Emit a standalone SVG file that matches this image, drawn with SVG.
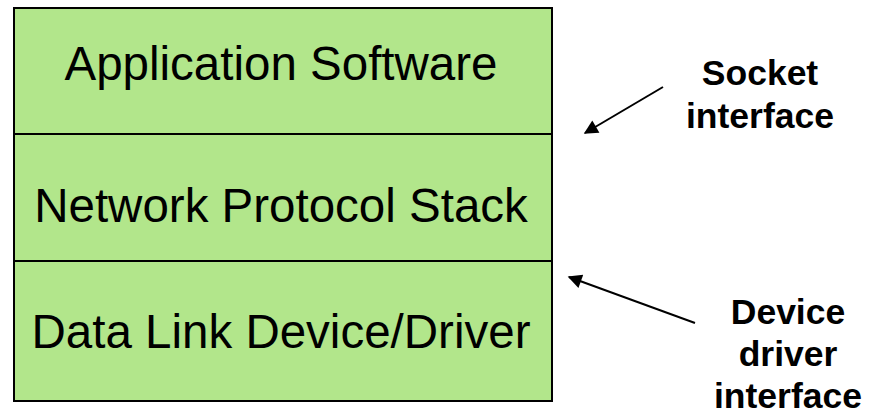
<svg xmlns="http://www.w3.org/2000/svg" width="870" height="415" viewBox="0 0 870 415">
<style>
.layer{fill:#b2e68b;stroke:#000;stroke-width:2}
.lt{font-family:"Liberation Sans",Arial,sans-serif;font-size:47.5px;fill:#000;text-anchor:middle}
.lbl{font-family:"Liberation Sans",Arial,sans-serif;font-size:35.5px;font-weight:bold;fill:#000;text-anchor:middle}
.conn{stroke:#000;stroke-width:2;fill:none;marker-end:url(#ah)}
</style>
<defs>
<marker id="ah" viewBox="0 0 10 10" refX="9" refY="5" markerWidth="9" markerHeight="7" markerUnits="strokeWidth" orient="auto">
<path d="M0,0 L10,5 L0,10 z" fill="#000"/>
</marker>
</defs>
<rect x="0" y="0" width="870" height="415" fill="#fff"/>
<g id="app">
<rect class="layer" x="14" y="8" width="538" height="126"/>
<text class="lt" x="281" y="80">Application Software</text>
</g>
<g id="stack">
<rect class="layer" x="14" y="134" width="538" height="127"/>
<text class="lt" x="281" y="222">Network Protocol Stack</text>
</g>
<g id="datalink">
<rect class="layer" x="14" y="261" width="538" height="140"/>
<text class="lt" x="281" y="348">Data Link Device/Driver</text>
</g>
<g id="socket-label">
<text class="lbl" x="760" y="85">Socket</text>
<text class="lbl" x="760" y="128">interface</text>
</g>
<g id="driver-label">
<text class="lbl" x="788" y="324">Device</text>
<text class="lbl" x="788" y="366">driver</text>
<text class="lbl" x="788" y="408">interface</text>
</g>
<g id="connectors">
<line class="conn" x1="663" y1="87" x2="585" y2="133"/>
<line class="conn" x1="695" y1="323" x2="569" y2="277"/>
</g>
</svg>
